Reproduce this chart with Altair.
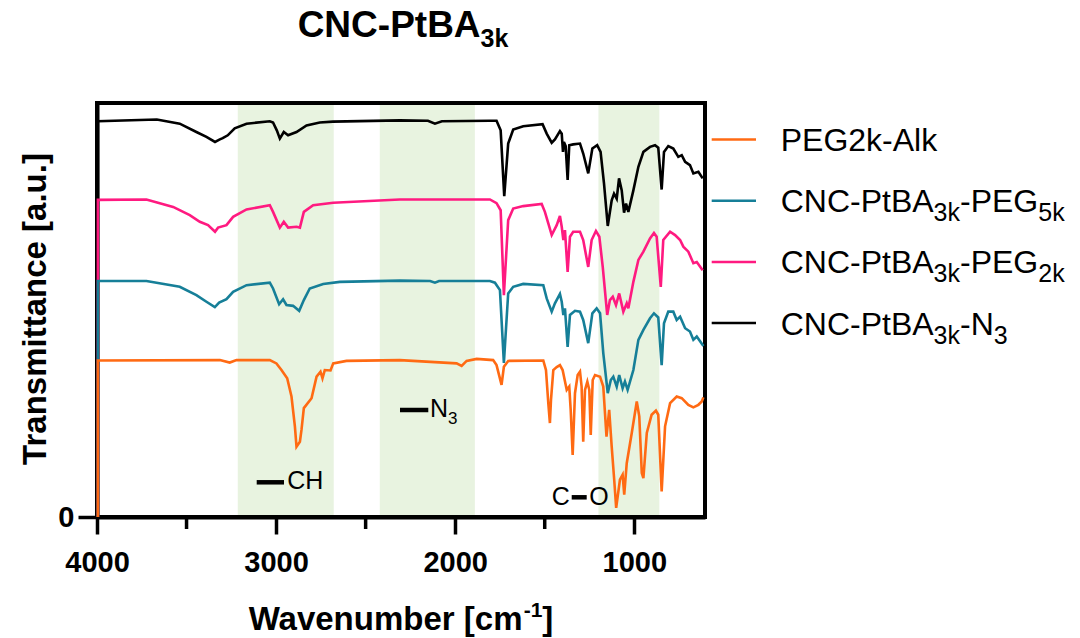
import altair as alt
import pandas as pd

# ---------------- data (wavenumber cm^-1, transmittance a.u.) ----------------
black_n3 = [(3995, 0), (3995, 95.6), (3666, 96.0), (3538, 95.0), (3445, 93.0), (3389, 91.8), (3341, 90.6),
            (3314, 91.2), (3298, 91.5), (3270, 92.2), (3231, 93.9), (3165, 95.0), (3035, 95.6), (3017, 95.3),
            (2996, 93.4), (2979, 91.4), (2957, 93.0), (2933, 92.2), (2886, 93.0), (2830, 94.6), (2756, 95.3),
            (2683, 95.5), (2309, 95.8), (2152, 95.7), (2113, 95.0), (2074, 95.6), (1806, 95.7), (1769, 95.7),
            (1746, 93.4), (1726, 77.5), (1704, 90.2), (1676, 93.6), (1620, 94.4), (1512, 94.9), (1489, 92.6),
            (1461, 90.4), (1443, 91.2), (1415, 93.2), (1405, 92.6), (1398, 88.2), (1393, 90.6), (1383, 89.6),
            (1372, 81.4), (1363, 89.8), (1341, 90.0), (1303, 90.2), (1285, 87.8), (1257, 83.0), (1234, 89.0),
            (1207, 89.8), (1188, 88.2), (1169, 80.6), (1148, 70.3), (1126, 76.5), (1113, 78.1), (1098, 76.9),
            (1085, 81.8), (1070, 78.9), (1057, 73.5), (1046, 75.7), (1033, 73.7), (1005, 78.9), (977, 84.6),
            (949, 88.2), (912, 89.4), (884, 89.8), (866, 89.2), (847, 79.1), (834, 88.2), (810, 89.6),
            (782, 89.0), (754, 87.0), (735, 87.4), (716, 85.8), (689, 85.0), (670, 83.0), (642, 83.4), (618, 81.8)]

pink_peg2k = [(3995, 0), (3995, 76.6), (3724, 76.7), (3575, 74.9), (3482, 72.9), (3426, 71.3), (3380, 70.5),
              (3341, 68.9), (3324, 69.9), (3277, 70.5), (3240, 72.5), (3165, 74.3), (3035, 75.3), (3017, 73.7),
              (2979, 69.9), (2957, 71.3), (2933, 69.9), (2886, 70.1), (2867, 69.9), (2845, 73.7), (2793, 75.3),
              (2681, 75.9), (2309, 76.7), (1806, 76.7), (1769, 75.8), (1746, 74.1), (1728, 53.6), (1704, 71.7),
              (1676, 74.5), (1620, 75.1), (1517, 75.6), (1499, 73.7), (1480, 70.9), (1461, 68.1), (1433, 70.5),
              (1415, 72.7), (1405, 70.1), (1396, 66.9), (1387, 69.3), (1372, 59.2), (1359, 67.7), (1341, 68.9),
              (1303, 68.9), (1285, 66.9), (1257, 60.4), (1238, 66.9), (1214, 69.1), (1195, 67.7), (1176, 60.4),
              (1151, 48.8), (1136, 52.4), (1120, 53.2), (1102, 51.2), (1084, 54.0), (1061, 49.6), (1042, 51.6),
              (1033, 50.4), (1005, 56.8), (977, 62.1), (949, 64.1), (912, 67.3), (890, 68.6), (875, 67.7),
              (852, 55.6), (838, 66.9), (800, 68.9), (772, 68.1), (744, 66.9), (726, 65.3), (698, 64.1),
              (670, 61.3), (651, 61.6), (618, 59.6)]

teal_peg5k = [(3995, 0), (3995, 57.0), (3724, 57.0), (3538, 55.6), (3445, 53.6), (3389, 52.0), (3342, 50.7),
              (3318, 51.8), (3277, 52.6), (3240, 54.4), (3165, 56.0), (3035, 56.6), (3017, 55.2), (2983, 51.4),
              (2961, 52.6), (2942, 51.2), (2905, 51.0), (2871, 49.8), (2845, 52.4), (2812, 55.2), (2737, 56.3),
              (2644, 56.8), (2309, 57.1), (2140, 57.0), (2113, 56.6), (2090, 57.0), (1806, 57.0), (1778, 56.6),
              (1750, 54.8), (1728, 37.2), (1704, 54.0), (1676, 55.6), (1620, 56.3), (1508, 56.0), (1489, 52.8),
              (1461, 49.6), (1443, 51.6), (1415, 53.9), (1405, 52.0), (1396, 48.8), (1387, 50.4), (1372, 41.1),
              (1359, 48.8), (1331, 49.8), (1303, 49.6), (1285, 47.6), (1257, 42.0), (1234, 49.2), (1210, 50.4),
              (1191, 49.2), (1173, 39.6), (1148, 29.9), (1131, 33.1), (1117, 33.9), (1098, 31.5), (1084, 34.3),
              (1065, 31.1), (1052, 32.7), (1037, 30.7), (1005, 35.5), (977, 42.8), (949, 45.2), (912, 48.0),
              (890, 49.2), (866, 48.2), (847, 36.7), (834, 46.8), (810, 49.6), (782, 49.6), (763, 47.6),
              (744, 48.4), (716, 45.6), (689, 44.8), (670, 42.8), (651, 43.6), (614, 41.3)]

orange_peg_alk = [(3995, 0), (3995, 37.8), (3314, 37.9), (3259, 37.3), (3221, 37.9), (3035, 37.9), (2998, 37.1),
                  (2970, 35.5), (2938, 33.5), (2914, 29.1), (2895, 21.9), (2886, 17.0), (2867, 18.2), (2858, 21.1),
                  (2845, 26.3), (2802, 28.7), (2774, 33.9), (2752, 35.1), (2741, 33.5), (2728, 35.5), (2696, 35.4),
                  (2681, 37.1), (2607, 37.7), (2309, 37.9), (1992, 37.1), (1964, 36.5), (1936, 37.7), (1880, 38.2),
                  (1788, 37.9), (1769, 36.7), (1741, 31.9), (1728, 36.3), (1704, 37.7), (1508, 37.8), (1493, 35.5),
                  (1480, 27.5), (1471, 22.7), (1465, 28.3), (1452, 35.5), (1433, 36.2), (1415, 36.7), (1400, 35.5),
                  (1377, 30.7), (1363, 31.5), (1355, 25.9), (1344, 15.0), (1331, 29.9), (1316, 34.3), (1303, 35.1),
                  (1294, 31.5), (1285, 18.2), (1275, 30.7), (1262, 32.7), (1251, 30.7), (1243, 19.8), (1232, 33.1),
                  (1219, 34.3), (1191, 33.9), (1173, 31.5), (1155, 19.4), (1140, 25.9), (1126, 17.0), (1112, 9.0),
                  (1101, 2.2), (1080, 9.0), (1065, 10.2), (1056, 5.4), (1042, 13.0), (1014, 20.3), (986, 27.9),
                  (972, 24.3), (958, 10.6), (949, 9.4), (930, 20.3), (903, 24.7), (879, 25.7), (866, 24.7),
                  (847, 6.2), (828, 21.9), (800, 27.5), (763, 29.1), (735, 28.7), (698, 27.1), (670, 26.5),
                  (642, 27.1), (623, 27.9), (614, 28.9)]

band_start = [3214, 2421, 1200]
band_end = [2678, 1890, 860]
x_major = [4000, 3000, 2000, 1000]
x_minor = [3500, 2500, 1500]
y_ticks = [0]

series_colors = {"black": "#000000", "pink": "#ff1a80", "teal": "#167f98", "orange": "#ff6a13"}
shade_color = "#e8f3e0"

# ---------------- layout ----------------
W, H = 608, 414
OX, OY = 97, 103  # page position of the plot area's top-left corner
FONT = "Liberation Sans"

REG = {' ': 278, '-': 333, '.': 278, '[': 278, ']': 278, 'A': 667, 'B': 667, 'C': 722, 'E': 667, 'G': 778,
       'H': 722, 'N': 722, 'O': 778, 'P': 667, 'k': 500, 'l': 222, 't': 278}
BOLD = {' ': 278, '-': 333, '.': 278, '[': 333, ']': 333, 'A': 722, 'B': 722, 'C': 722, 'N': 722, 'P': 667,
        'T': 611, 'W': 944, 'a': 556, 'b': 611, 'c': 556, 'e': 556, 'i': 278, 'k': 556, 'm': 889, 'n': 611,
        'r': 389, 's': 556, 't': 333, 'u': 611, 'v': 556}


def tw(s, size, bold):
    table = BOLD if bold else REG
    return sum(table.get(c, 556) for c in s) * size / 1000.0


def rich(pieces, x0, base, size, small, shift, bold):
    rows, x = [], x0
    for txt, kind in pieces:
        fs = size if kind == "n" else small
        dy = 0 if kind == "n" else (shift if kind == "sub" else -shift)
        rows.append({"px": x - OX, "py": base + dy - OY, "text": txt, "fs": fs})
        x += tw(txt, fs, bold)
    return rows, x - x0


xs = alt.Scale(domain=[4000, 605], nice=False, zero=False)
ys = alt.Scale(domain=[0, 100], nice=False, zero=False)

x_axis = alt.Axis(values=x_major, format="d", title=None, grid=False,
                  tickSize=17, tickWidth=3.5, tickColor="black",
                  domainWidth=4, domainColor="black",
                  labelFontSize=29, labelFontWeight="bold", labelFont=FONT,
                  labelColor="black", labelPadding=14, labelFlush=False, labelOverlap=False)
y_axis = alt.Axis(values=y_ticks, title=None, grid=False, tickSize=19,
                  tickWidth=3.5, tickColor="black", domainWidth=4,
                  domainColor="black", labelFontSize=29, labelFontWeight="bold",
                  labelFont=FONT, labelColor="black", labelPadding=4)

# shaded bands (carry both axes)
bands = pd.DataFrame({"a": band_start, "b": band_end, "lo": [0, 0, 0]})
band_layer = alt.Chart(bands).mark_rect(color=shade_color).encode(
    x=alt.X("a:Q", scale=xs, axis=x_axis),
    x2="b:Q",
    y=alt.value(2), y2=alt.value(H - 2),
)
yaxis_layer = alt.Chart(pd.DataFrame({"v": y_ticks})).mark_point(opacity=0).encode(
    y=alt.Y("v:Q", scale=ys, axis=y_axis),
    x=alt.value(0),
)

# minor ticks
minor_layer = alt.Chart(pd.DataFrame({"m": x_minor})).mark_rule(color="black", strokeWidth=3.5).encode(
    x=alt.X("m:Q", scale=xs, axis=None), y=alt.value(H), y2=alt.value(H + 12)
)


def line_layer(pairs, color):
    df = pd.DataFrame(pairs, columns=["wn", "t"])
    df["i"] = range(len(df))
    return alt.Chart(df).mark_line(color=color, strokeWidth=2.6).encode(
        x=alt.X("wn:Q", scale=xs, axis=None),
        y=alt.Y("t:Q", scale=ys, axis=None),
        order="i:Q",
    )


lines = [line_layer(black_n3, series_colors["black"]),
         line_layer(pink_peg2k, series_colors["pink"]),
         line_layer(teal_peg5k, series_colors["teal"]),
         line_layer(orange_peg_alk, series_colors["orange"])]

# ---------------- text pieces ----------------
reg_rows, bold_rows = [], []

legend_items = [
    ([("PEG2k-Alk", "n")], "orange"),
    ([("CNC-PtBA", "n"), ("3k", "sub"), ("-PEG", "n"), ("5k", "sub")], "teal"),
    ([("CNC-PtBA", "n"), ("3k", "sub"), ("-PEG", "n"), ("2k", "sub")], "pink"),
    ([("CNC-PtBA", "n"), ("3k", "sub"), ("-N", "n"), ("3", "sub")], "black"),
]
leg_rules = []
for k, (pieces, col) in enumerate(legend_items):
    ry = 139.5 + 61.2 * k
    rows, _ = rich(pieces, 780.7, ry + 11.5, 32, 25, 9, False)
    reg_rows += rows
    leg_rules.append({"x1": 711.7 - OX, "x2": 756 - OX, "y": ry - OY, "c": series_colors[col], "w": 2.5})

rows, _ = rich([("CH", "n")], 287.3, 489.3, 25, 17, 6.7, False); reg_rows += rows
rows, _ = rich([("N", "n"), ("3", "sub")], 430, 417.3, 25, 17, 6.7, False); reg_rows += rows
rows, _ = rich([("C", "n")], 551.7, 505, 25, 17, 6.7, False); reg_rows += rows
rows, _ = rich([("O", "n")], 589.3, 505, 25, 17, 6.7, False); reg_rows += rows
for (a, b, yy) in [(256.7, 284, 482.3), (400, 428.3, 410), (571.7, 586.7, 497.3)]:
    leg_rules.append({"x1": a - OX, "x2": b - OX, "y": yy - OY, "c": "#000000", "w": 4.5})

tp = [("CNC-PtBA", "n"), ("3k", "sub")]
_, tw_title = rich(tp, 0, 0, 37, 25, 10, True)
rows, _ = rich(tp, 403 - tw_title / 2, 37, 37, 25, 10, True); bold_rows += rows

xp = [("Wavenumber [cm", "n"), ("-1", "sup"), ("]", "n")]
_, tw_x = rich(xp, 0, 0, 33, 21, 13, True)
rows, _ = rich(xp, 401 - tw_x / 2, 630, 33, 21, 13, True); bold_rows += rows


def text_layer(rows, weight):
    return alt.Chart(pd.DataFrame(rows)).mark_text(
        align="left", baseline="alphabetic", font=FONT, fontWeight=weight, color="black"
    ).encode(
        x=alt.X("px:Q", scale=None, axis=None),
        y=alt.Y("py:Q", scale=None, axis=None),
        text="text:N",
        size=alt.Size("fs:Q", scale=None, legend=None),
    )


rule_layer = alt.Chart(pd.DataFrame(leg_rules)).mark_rule().encode(
    x=alt.X("x1:Q", scale=None, axis=None), x2="x2:Q",
    y=alt.Y("y:Q", scale=None, axis=None),
    color=alt.Color("c:N", scale=None, legend=None),
    strokeWidth=alt.StrokeWidth("w:Q", scale=None, legend=None),
)

ytitle = alt.Chart(pd.DataFrame({"text": ["Transmittance [a.u.]"]})).mark_text(
    angle=270, align="center", baseline="alphabetic", font=FONT, fontWeight="bold", fontSize=33, color="black"
).encode(x=alt.value(46 - OX), y=alt.value(309 - OY), text="text:N")

chart = alt.layer(
    band_layer, yaxis_layer, minor_layer, *lines, rule_layer,
    text_layer(reg_rows, "normal"), text_layer(bold_rows, "bold"), ytitle
).resolve_scale(
    x="independent", y="independent"
).properties(
    width=W, height=H,
    autosize=alt.AutoSizeParams(type="none"),
    padding={"left": OX, "top": OY, "right": 1080 - OX - W, "bottom": 638 - OY - H},
    background="white",
).configure_view(stroke="black", strokeWidth=4)

chart.save("out.html", embed_options={"renderer": "svg", "actions": False})
